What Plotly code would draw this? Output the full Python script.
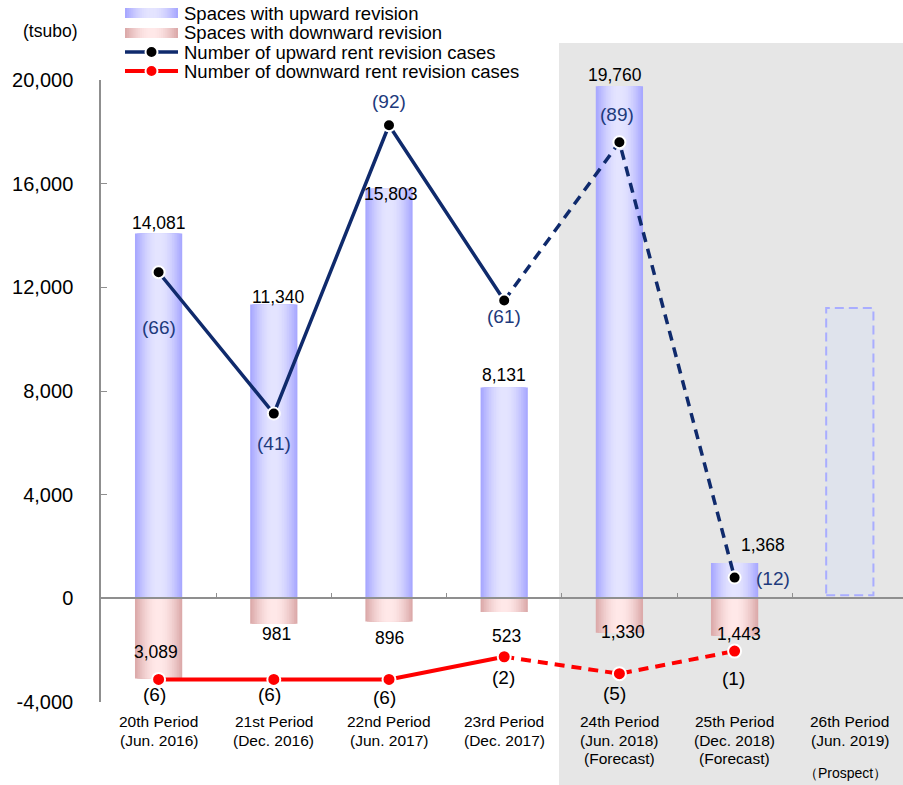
import math
import plotly.graph_objects as go

# ---- data -------------------------------------------------------------
periods = ["20th Period", "21st Period", "22nd Period", "23rd Period",
           "24th Period", "25th Period", "26th Period"]
period_dates = ["(Jun. 2016)", "(Dec. 2016)", "(Jun. 2017)", "(Dec. 2017)",
                "(Jun. 2018)", "(Dec. 2018)", "(Jun. 2019)"]
period_notes = ["", "", "", "", "(Forecast)", "(Forecast)", ""]
prospect_note = "（Prospect）"

up_space = [14081, 11340, 15803, 8131, 19760, 1368]      # tsubo
down_space = [3089, 981, 896, 523, 1330, 1443]           # tsubo
up_cases = [66, 41, 92, 61, 89, 12]
down_cases = [6, 6, 6, 2, 5, 1]
prospect_space = 11200                                   # 26th period outlook

y_tick_vals = [-4000, 0, 4000, 8000, 12000, 16000, 20000]
y_tick_text = ["-4,000", "0", "4,000", "8,000", "12,000", "16,000", "20,000"]

# ---- styling ----------------------------------------------------------
FONT = "Arial, 'Liberation Sans', sans-serif"
W, H = 903, 785
ML, MR, MT, MB = 101, 0, 80, 83
PW, PH = W - ML - MR, H - MT - MB

NAVY = "#0f2a6c"
NAVY_TXT = "#1d3a7c"
RED = "#ff0000"
AXIS = "#8f8f8f"
UP_EDGE, UP_MID = (168, 168, 255), (228, 228, 255)
DN_EDGE, DN_MID = (220, 170, 170), (255, 232, 232)
N_LAYERS = 14
BAR_W = 0.41


def px(x):
    return (x - ML) / PW


def py(y):
    return (MT + PH - y) / PH


def blend(c0, c1, t):
    return "rgb(%d,%d,%d)" % tuple(round(a + (b - a) * t) for a, b in zip(c0, c1))


def layer_colors(edge, mid):
    out = []
    for k in range(N_LAYERS):
        t = math.sin(k / (N_LAYERS - 1) * math.pi / 2)
        out.append((1 - k / N_LAYERS, blend(edge, mid, t)))
    return out


cats = periods[:len(up_space)]
fig = go.Figure()

# Bars with a horizontal shading: nested overlaid bars, edge -> centre
for frac, col in layer_colors(UP_EDGE, UP_MID):
    fig.add_bar(x=cats, y=up_space, width=BAR_W * frac,
                marker=dict(color=col, line_width=0), hoverinfo="skip")
for frac, col in layer_colors(DN_EDGE, DN_MID):
    fig.add_bar(x=cats, y=[-v for v in down_space], width=BAR_W * frac,
                marker=dict(color=col, line_width=0), hoverinfo="skip")

# Case counts: results solid, forecasts dashed
fig.add_scatter(x=cats[:4], y=up_cases[:4], yaxis="y2", mode="lines",
                line=dict(color=NAVY, width=3.5))
fig.add_scatter(x=cats[3:], y=up_cases[3:], yaxis="y2", mode="lines",
                line=dict(color=NAVY, width=3.5, dash="10px,7px"))
fig.add_scatter(x=cats, y=up_cases, yaxis="y2", mode="markers",
                marker=dict(color="black", size=12, line=dict(color="white", width=2)))

fig.add_scatter(x=cats[:4], y=down_cases[:4], yaxis="y3", mode="lines",
                line=dict(color=RED, width=4))
fig.add_scatter(x=cats[3:], y=down_cases[3:], yaxis="y3", mode="lines",
                line=dict(color=RED, width=4, dash="10px,7px"))
fig.add_scatter(x=cats, y=down_cases, yaxis="y3", mode="markers",
                marker=dict(color=RED, size=13, line=dict(color="white", width=2)))

shapes = []
# shaded forecast zone
shapes.append(dict(type="rect", xref="paper", yref="paper", layer="below",
                   x0=px(559), x1=1.0, y0=py(785), y1=py(43),
                   fillcolor="#e6e6e6", line_width=0))
# outlook for the 26th period
shapes.append(dict(type="rect", xref="x", yref="y", layer="above",
                   x0=6 - BAR_W / 2, x1=6 + BAR_W / 2, y0=120, y1=prospect_space,
                   fillcolor="#dfe3ec", line=dict(color="#a9adff", width=2, dash="9px,5px")))

annotations = []


def note(text, x, y, xref="x", yref="y", size=18, color="black", xs=0, ys=0,
         xanchor="center", yanchor="middle"):
    annotations.append(dict(text=text, x=x, y=y, xref=xref, yref=yref, showarrow=False,
                            xanchor=xanchor, yanchor=yanchor,
                            xshift=xs, yshift=ys, font=dict(family=FONT, size=size, color=color)))


# value labels on bars
up_off = [(0, 10), (4, 7), (2, -5), (0, 13), (-4, 11), (28, 18)]
for i, v in enumerate(up_space):
    note(f"{v:,}", i, v, size=17.5, xs=up_off[i][0], ys=up_off[i][1])
dn_off = [(-3, 26), (3, -10), (0, -16), (2, -24), (4, 1), (4, 2)]
for i, v in enumerate(down_space):
    note(f"{v:,}", i, -v, size=17.5, xs=dn_off[i][0], ys=dn_off[i][1])

# case count labels
uc_off = [(0, -55), (0, -30), (0, 24), (0, -16), (-2, 28), (38, -1)]
for i, v in enumerate(up_cases):
    note(f"({v})", i, v, yref="y2", size=19, color=NAVY_TXT, xs=uc_off[i][0], ys=uc_off[i][1])
dc_off = [(-4, -15), (-4, -15), (-5, -18), (-1, -21), (-5, -20), (-1, -27)]
for i, v in enumerate(down_cases):
    note(f"({v})", i, v, yref="y3", size=19, xs=dc_off[i][0], ys=dc_off[i][1])

# category labels
for i, name in enumerate(periods):
    note(name, i, py(721), yref="paper", size=15.5)
    note(period_dates[i], i, py(740), yref="paper", size=15.5)
    if period_notes[i]:
        note(period_notes[i], i, py(758), yref="paper", size=15.5)
note(prospect_note, 6, py(773), yref="paper", size=14, xs=-4)

# unit
note("(tsubo)", px(50), py(31), xref="paper", yref="paper", size=17.5)

# legend
LX0, LX1 = 125, 178
leg_rows = [13, 33, 52, 71]
leg_text = ["Spaces with upward revision", "Spaces with downward revision",
            "Number of upward rent revision cases", "Number of downward rent revision cases"]
for t, row in zip(leg_text, leg_rows):
    note(t, px(182), py(row), xref="paper", yref="paper", size=18.5, xanchor="left")
for row, (edge, mid) in zip(leg_rows[:2], [(UP_EDGE, UP_MID), (DN_EDGE, DN_MID)]):
    half = (LX1 - LX0) / 2
    for frac, col in layer_colors(edge, mid):
        cx = (LX0 + LX1) / 2
        shapes.append(dict(type="rect", xref="paper", yref="paper",
                           x0=px(cx - half * frac), x1=px(cx + half * frac),
                           y0=py(row + 5), y1=py(row - 5), fillcolor=col, line_width=0))
for row, lc, mc, lw in [(leg_rows[2], NAVY, "black", 3.5), (leg_rows[3], RED, RED, 4)]:
    shapes.append(dict(type="line", xref="paper", yref="paper",
                       x0=px(LX0), x1=px(LX1), y0=py(row), y1=py(row),
                       line=dict(color=lc, width=lw)))
    cx = (LX0 + LX1) / 2
    shapes.append(dict(type="circle", xref="paper", yref="paper",
                       x0=px(cx - 6), x1=px(cx + 6), y0=py(row + 6), y1=py(row - 6),
                       fillcolor=mc, line=dict(color="white", width=2)))

fig.update_layout(
    width=W, height=H,
    margin=dict(l=ML, r=MR, t=MT, b=MB),
    paper_bgcolor="white", plot_bgcolor="rgba(0,0,0,0)",
    barmode="overlay", showlegend=False,
    font=dict(family=FONT, color="black"),
    shapes=shapes, annotations=annotations,
    xaxis=dict(type="category", categoryorder="array", categoryarray=periods,
               range=[-0.5, -0.5 + PW / 115.2], anchor="free", position=4000 / 24000,
               showline=True, linecolor=AXIS, linewidth=1.5,
               ticks="inside", tickson="boundaries", ticklen=5, tickcolor=AXIS,
               showticklabels=False, showgrid=False, zeroline=False, fixedrange=True),
    yaxis=dict(range=[-4000, 20000], tickvals=y_tick_vals, ticktext=y_tick_text,
               showline=True, linecolor=AXIS, linewidth=1.5,
               ticks="inside", ticklen=6, tickcolor=AXIS, ticklabelstandoff=22,
               tickfont=dict(family=FONT, size=20, color="black"),
               showgrid=False, zeroline=False),
    yaxis2=dict(overlaying="y", range=[-10, 100], visible=False),
    yaxis3=dict(overlaying="y", range=[10, -100], visible=False),
)

fig.write_html("out.html")
